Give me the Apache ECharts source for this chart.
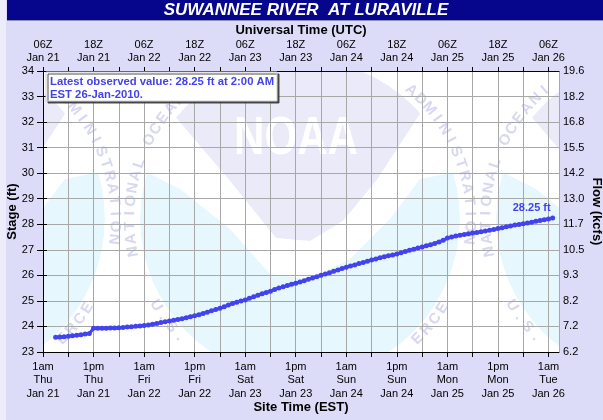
<!DOCTYPE html>
<html>
<head>
<meta charset="utf-8">
<script src="https://cdn.jsdelivr.net/npm/echarts@6/dist/echarts.min.js"></script>
<style>
html,body{margin:0;padding:0;background:#dcdcf8;}
#chart{width:603px;height:420px;}
</style>
</head>
<body>
<div id="chart"></div>
<script>
// ---- Data ----
var siteTimes = ['1am','1pm','1am','1pm','1am','1pm','1am','1pm','1am','1pm','1am'];
var siteDays  = ['Thu','Thu','Fri','Fri','Sat','Sat','Sun','Sun','Mon','Mon','Tue'];
var siteDates = ['Jan 21','Jan 21','Jan 22','Jan 22','Jan 23','Jan 23','Jan 24','Jan 24','Jan 25','Jan 25','Jan 26'];
var utcTimes  = ['06Z','18Z','06Z','18Z','06Z','18Z','06Z','18Z','06Z','18Z','06Z'];
var utcDates  = ['Jan 21','Jan 21','Jan 22','Jan 22','Jan 23','Jan 23','Jan 24','Jan 24','Jan 25','Jan 25','Jan 26'];
var flowLabels = ['6.2','7.2','8.2','9.3','10.5','11.7','13.0','14.2','15.5','16.8','18.2','19.6'];
// hourly stage readings (ft), first reading 3 h after 1am EST Jan 21
var firstHour = 3;
var stageFt = [
 23.58,23.59,23.60,23.62,23.64,23.66,23.68,23.70,23.72,
 23.93,23.93,23.93,23.93,23.94,23.94,23.95,23.96,23.98,23.99,24.01,24.02,
 24.04,24.06,24.09,24.12,24.15,24.18,24.21,24.24,24.27,24.30,24.34,24.38,
 24.42,24.46,24.51,24.56,24.61,24.66,24.71,24.77,24.84,24.90,24.95,25.00,
 25.04,25.10,25.16,25.22,25.28,25.33,25.38,25.45,25.51,25.55,25.60,25.65,
 25.69,25.74,25.79,25.85,25.90,25.95,26.00,26.05,26.10,26.16,26.21,26.27,
 26.32,26.37,26.41,26.46,26.50,26.55,26.60,26.64,26.69,26.73,26.77,26.80,
 26.84,26.89,26.93,26.98,27.02,27.07,27.11,27.16,27.20,27.25,27.31,27.37,
 27.46,27.50,27.54,27.57,27.60,27.63,27.66,27.68,27.71,27.74,27.77,27.80,
 27.83,27.86,27.90,27.93,27.97,27.99,28.02,28.05,28.08,28.12,28.15,28.18,
 28.21,28.25
];
var latestText = ['Latest observed value: 28.25 ft at 2:00 AM', 'EST 26-Jan-2010.'];
var titleText = 'SUWANNEE RIVER  AT LURAVILLE';
var ringTop = 'NATIONAL OCEANIC AND ATMOSPHERIC ADMINISTRATION';
var ringBottom = 'U.S. DEPARTMENT OF COMMERCE';

// ---- build series data ----
var seriesData = stageFt.map(function(v, i){ return [firstHour + i, v]; });
var lastIdx = seriesData.length - 1;

// ---- watermark (decorative emblem), drawn inside plot area ----
var logo = "<g clip-path='url(#c)'><circle r='160' fill='#e6f8fd'/>" +
  "<path d='M-170,-220 L-170,-130 L-127,-105 L-70,-38 L-24,19 L10,22 L43,2 L76,-38 L120,-105 L170,-140 L170,-220 Z' fill='#eaeaf9'/>" +
  "<path d='M-170,-130 L-127,-105 L-70,-38 L-24,19 L10,22 L43,2 L76,-38 L120,-105 L170,-140 L170,-50 L120,-40 L90,0 L50,40 L10,60 L-30,55 L-70,10 L-120,-30 L-170,-55 Z' fill='#ffffff'/></g>";
var svg = "<svg xmlns='http://www.w3.org/2000/svg' width='516' height='281' viewBox='0 0 516 281'>" +
  "<defs><clipPath id='c'><circle cx='0' cy='0' r='160'/></clipPath></defs>" +
  "<rect width='516' height='281' fill='#ffffff'/>" +
  "<g transform='translate(-98,148)'>" + logo + "</g>" +
  "<g transform='translate(257,148)'>" + logo + "</g>" +
  "<g transform='translate(613,148)'>" + logo + "</g>" +
  "</svg>";
var svgUri = 'data:image/svg+xml;charset=utf-8,' + encodeURIComponent(svg);

var FONT = 'Liberation Sans, Arial, sans-serif';
var BLUE = '#4242f0';

// faint emblem ring lettering (decoration), kept inside the plot rectangle
function ringLetters(cx, cy, R, text, startDeg, stepDeg, outward) {
  var out = [];
  for (var i = 0; i < text.length; i++) {
    var ch = text[i];
    if (ch === ' ') continue;
    var th = (startDeg + stepDeg * i) * Math.PI / 180;
    var x = cx + R * Math.cos(th), y = cy + R * Math.sin(th);
    if (x < 51 || x > 551 || y < 79 || y > 344) continue;
    var rot = outward ? -(th + Math.PI / 2) : -(th - Math.PI / 2);
    out.push({type: 'text', x: x, y: y, rotation: rot, z: -9, silent: true,
      style: {text: ch, fill: 'rgba(175,175,225,0.5)', font: 'bold 15px ' + FONT,
              textAlign: 'center', textVerticalAlign: 'middle'}});
  }
  return out;
}
var ringEls = [];
[-55, 300, 656].forEach(function(cx){
  ringEls = ringEls.concat(ringLetters(cx, 219, 170, ringTop, 169, 4.3, true));
  ringEls = ringEls.concat(ringLetters(cx, 219, 168, ringBottom, 149, -4.5, false));
});

var chart = echarts.init(document.getElementById('chart'), null, {renderer:'canvas'});

function idx12(v){ return (Math.abs(v % 12) < 1e-6) ? Math.round(v / 12) : -1; }

var option = {
  backgroundColor: '#dcdcf8',
  animation: false,
  textStyle: {fontFamily: FONT},
  grid: {left: 43, top: 71, width: 516, height: 281, containLabel: false, outerBoundsMode: 'none'},
  xAxis: [{
    type: 'value', position: 'bottom', min: 0, max: 122.5, interval: 6,
    name: 'Site Time (EST)', nameLocation: 'middle', nameGap: 49, nameMoveOverlap: false,
    nameTextStyle: {fontFamily: FONT, fontSize: 13, fontWeight: 'bold', color: '#000'},
    axisLine: {show: true, lineStyle: {color: '#000', width: 1}},
    axisTick: {show: true, length: 5, lineStyle: {color: '#000'}},
    axisLabel: {
      margin: 8, fontFamily: FONT, fontSize: 11, color: '#000', lineHeight: 13.5,
      showMaxLabel: false,
      formatter: function(v){ var i = idx12(v); return i < 0 || i >= siteTimes.length ? '' : siteTimes[i] + '\n' + siteDays[i] + '\n' + siteDates[i]; }
    },
    splitLine: {show: true, lineStyle: {color: '#a8a8a8', width: 1}}
  }, {
    type: 'value', position: 'top', min: 0, max: 122.5, interval: 6,
    name: 'Universal Time (UTC)', nameLocation: 'middle', nameGap: 34, nameMoveOverlap: false,
    nameTextStyle: {fontFamily: FONT, fontSize: 13, fontWeight: 'bold', color: '#000'},
    axisLine: {show: true, lineStyle: {color: '#000', width: 1}},
    axisTick: {show: true, length: 4, lineStyle: {color: '#000'}},
    axisLabel: {
      margin: 7, fontFamily: FONT, fontSize: 11, color: '#000', lineHeight: 13,
      showMaxLabel: false,
      formatter: function(v){ var i = idx12(v); return i < 0 || i >= utcTimes.length ? '' : utcTimes[i] + '\n' + utcDates[i]; }
    },
    splitLine: {show: false}
  }],
  yAxis: [{
    type: 'value', position: 'left', min: 23, max: 34, interval: 1,
    name: 'Stage (ft)', nameLocation: 'middle', nameGap: 24, nameMoveOverlap: false,
    nameTextStyle: {fontFamily: FONT, fontSize: 13, fontWeight: 'bold', color: '#000'},
    axisLine: {show: true, lineStyle: {color: '#000', width: 1}},
    axisTick: {show: true, length: 6, lineStyle: {color: '#000'}},
    axisLabel: {margin: 9, fontFamily: FONT, fontSize: 11, color: '#000'},
    splitLine: {show: true, lineStyle: {color: '#a8a8a8', width: 1}}
  }, {
    type: 'value', position: 'right', min: 23, max: 34, interval: 1,
    name: 'Flow (kcfs)', nameLocation: 'middle', nameGap: 31, nameRotate: -90, nameMoveOverlap: false,
    nameTextStyle: {fontFamily: FONT, fontSize: 13, fontWeight: 'bold', color: '#000'},
    axisLine: {show: true, lineStyle: {color: '#000', width: 1}},
    axisTick: {show: true, length: 4, lineStyle: {color: '#000'}},
    axisLabel: {margin: 4, fontFamily: FONT, fontSize: 11, color: '#000',
      formatter: function(v){ var i = Math.round(v - 23); return flowLabels[i] || ''; }},
    splitLine: {show: false}
  }],
  series: [{
    type: 'line', xAxisIndex: 0, yAxisIndex: 0,
    data: seriesData,
    symbol: 'circle', symbolSize: 5, showSymbol: true,
    itemStyle: {color: BLUE},
    lineStyle: {color: BLUE, width: 3},
    z: 5,
    label: {
      show: true, position: 'top', offset: [-21, 3],
      fontFamily: FONT, fontSize: 11, fontWeight: 'bold', color: BLUE,
      formatter: function(p){ return p.dataIndex === lastIdx ? p.value[1].toFixed(2) + ' ft' : ''; }
    }
  }],
  graphic: [
    {type: 'rect', x: 0, y: 0, z: -20, silent: true, shape: {width: 6, height: 420}, style: {fill: '#ececfb'}},
    {type: 'image', x: 43, y: 71, z: -10, silent: true,
     style: {image: svgUri, width: 516, height: 281}},
    {type: 'text', x: 296, y: 139, z: -9, silent: true, scaleX: 0.78,
     style: {text: 'NOAA', fill: '#ffffff', font: 'bold 54px ' + FONT, textAlign: 'center', textVerticalAlign: 'middle'}},
    {type: 'rect', x: 7, y: 0, z: 50, silent: true, shape: {width: 596, height: 20},
     style: {fill: '#06068c', shadowBlur: 0, shadowColor: 'rgba(0,0,60,0.35)', shadowOffsetY: 1}},
    {type: 'text', x: 306, y: 10, z: 51, silent: true,
     style: {text: titleText, fill: '#ffffff', font: 'italic bold 17px ' + FONT, textAlign: 'center', textVerticalAlign: 'middle'}},
    {type: 'rect', x: 46, y: 72, z: 50, silent: true, shape: {width: 231, height: 29},
     style: {fill: '#ffffff', stroke: '#d0d0d0', lineWidth: 1, shadowColor: 'rgba(60,60,60,0.9)', shadowOffsetX: 2, shadowOffsetY: 2, shadowBlur: 0}},
    {type: 'text', x: 50, y: 82, z: 51, silent: true,
     style: {text: latestText[0], fill: BLUE, font: 'bold 11.3px ' + FONT, textVerticalAlign: 'middle'}},
    {type: 'text', x: 50, y: 95, z: 51, silent: true,
     style: {text: latestText[1], fill: BLUE, font: 'bold 11.3px ' + FONT, textVerticalAlign: 'middle'}}
  ].concat(ringEls)
};
chart.setOption(option);
</script>
</body>
</html>
